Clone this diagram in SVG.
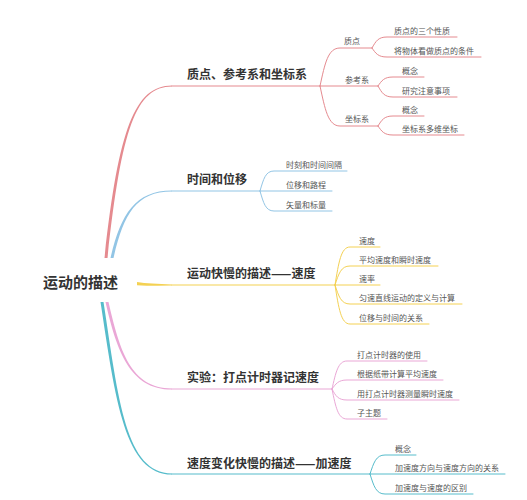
<svg xmlns="http://www.w3.org/2000/svg" width="527" height="500" viewBox="0 0 527 500">
<style>
text{font-family:"Noto Sans CJK SC","Noto Sans",sans-serif}
.root{font-size:15px;font-weight:bold;fill:#333}
.l1{font-size:12px;font-weight:bold;fill:#333}
.l2{font-size:8px;fill:#555}
.ln{fill:none;stroke-width:1.2;stroke-linecap:round}
.sub{fill:none;stroke-width:1;stroke-linecap:round}
.red{stroke:#e58a8f}.blue{stroke:#92c5e5}.yel{stroke:#f4d153}.pink{stroke:#eaa7d6}.teal{stroke:#56bccb}
</style>
<rect width="527" height="500" fill="#fff"/>
<g id="connectors">
<path d="M104.5,258 C118.5,130 134.5,85.4 172,85.4 L172,86.6 C135.5,86.6 121.5,130 107.5,258 Z" fill="#e58a8f"/>
<path class="ln red" d="M172,86 H320"/>
<path class="sub red" d="M320,86 C325,63 328,48 340,48 H372"/>
<path class="sub red" d="M372,48 C375.75,41.4 378,37 387,37 H457"/>
<path class="sub red" d="M372,48 C375.75,53.4 378,57 387,57 H481"/>
<path class="sub red" d="M320,86 H378"/>
<path class="sub red" d="M378,86 C381.75,80.6 384,77 393,77 H424"/>
<path class="sub red" d="M378,86 C381.75,92.6 384,97 393,97 H457"/>
<path class="sub red" d="M320,86 C325,109 328,126 340,126 H378"/>
<path class="sub red" d="M378,126 C381.75,120 384,116 393,116 H424"/>
<path class="sub red" d="M378,126 C381.75,131.4 384,135 393,135 H464"/>

<path d="M110.5,258 C120.5,215 134.5,190.4 172,190.4 L172,191.6 C135.5,191.6 123.5,215 113.5,258 Z" fill="#92c5e5"/>
<path class="ln blue" d="M172,191 H260"/>
<path class="sub blue" d="M260,191 C263.5,179 265.5,171 274,171 H347"/>
<path class="sub blue" d="M260,191 H332"/>
<path class="sub blue" d="M260,191 C263.5,203 265.5,211 274,211 H332"/>

<path d="M137,282 Q150,284 172,284.4 L172,285.6 Q150,286 137,285.2 Z" fill="#f4d153"/>
<path class="ln yel" d="M172,285 H335"/>
<path class="sub yel" d="M335,285 C338.75,262.2 341,247 350,247 H380"/>
<path class="sub yel" d="M335,285 C338.75,273.6 341,266 350,266 H438"/>
<path class="sub yel" d="M335,285 H380"/>
<path class="sub yel" d="M335,285 C338.75,296.4 341,304 350,304 H462"/>
<path class="sub yel" d="M335,285 C338.75,308.4 341,324 350,324 H429"/>

<path d="M105.5,302 C116.5,350 129.5,389.6 172,389.6 L172,388.4 C130.5,388.4 119.5,350 108.5,302 Z" fill="#eaa7d6"/>
<path class="ln pink" d="M172,389 H332"/>
<path class="sub pink" d="M332,389 C335.75,372.6 338,361 347,361 H427"/>
<path class="sub pink" d="M332,389 C335.75,384 338,380 347,380 H443"/>
<path class="sub pink" d="M332,389 C335.75,396 338,400 347,400 H459"/>
<path class="sub pink" d="M332,389 C335.75,407.4 338,419 347,419 H387"/>

<path d="M100.5,302 C115.5,400 124.5,474.6 172,474.6 L172,473.4 C125.5,473.4 118.5,400 103.5,302 Z" fill="#56bccb"/>
<path class="ln teal" d="M172,474 H370"/>
<path class="sub teal" d="M370,474 C373.75,462.6 376,455 385,455 H416"/>
<path class="sub teal" d="M370,474 H505"/>
<path class="sub teal" d="M370,474 C373.75,486 376,494 385,494 H473"/>
</g>
<g id="root"><text class="root" x="43" y="287.5">运动的描述</text></g>
<g id="n1"><text class="l1" x="187" y="79">质点、参考系和坐标系</text></g>
<g id="n1-1"><text class="l2" x="344" y="44">质点</text></g>
<g id="n1-1-1"><text class="l2" x="394" y="34">质点的三个性质</text></g>
<g id="n1-1-2"><text class="l2" x="394" y="53.5">将物体看做质点的条件</text></g>
<g id="n1-2"><text class="l2" x="345" y="82.5">参考系</text></g>
<g id="n1-2-1"><text class="l2" x="402" y="73.5">概念</text></g>
<g id="n1-2-2"><text class="l2" x="402" y="93.5">研究注意事项</text></g>
<g id="n1-3"><text class="l2" x="345" y="122">坐标系</text></g>
<g id="n1-3-1"><text class="l2" x="402" y="112.5">概念</text></g>
<g id="n1-3-2"><text class="l2" x="402" y="131.5">坐标系多维坐标</text></g>
<g id="n2"><text class="l1" x="187" y="183.5">时间和位移</text></g>
<g id="n2-1"><text class="l2" x="286" y="167.5">时刻和时间间隔</text></g>
<g id="n2-2"><text class="l2" x="286" y="187.5">位移和路程</text></g>
<g id="n2-3"><text class="l2" x="286" y="207.5">矢量和标量</text></g>
<g id="n3"><text class="l1" x="187" y="278">运动快慢的描述——速度</text></g>
<g id="n3-1"><text class="l2" x="359" y="243.5">速度</text></g>
<g id="n3-2"><text class="l2" x="359" y="262.5">平均速度和瞬时速度</text></g>
<g id="n3-3"><text class="l2" x="359" y="281.5">速率</text></g>
<g id="n3-4"><text class="l2" x="359" y="300.5">匀速直线运动的定义与计算</text></g>
<g id="n3-5"><text class="l2" x="359" y="320.5">位移与时间的关系</text></g>
<g id="n4"><text class="l1" x="187" y="382">实验：打点计时器记速度</text></g>
<g id="n4-1"><text class="l2" x="357" y="357.5">打点计时器的使用</text></g>
<g id="n4-2"><text class="l2" x="357" y="376.5">根据纸带计算平均速度</text></g>
<g id="n4-3"><text class="l2" x="357" y="396.5">用打点计时器测量瞬时速度</text></g>
<g id="n4-4"><text class="l2" x="357" y="415.5">子主题</text></g>
<g id="n5"><text class="l1" x="187" y="467.5">速度变化快慢的描述——加速度</text></g>
<g id="n5-1"><text class="l2" x="395" y="451.5">概念</text></g>
<g id="n5-2"><text class="l2" x="395" y="470.5">加速度方向与速度方向的关系</text></g>
<g id="n5-3"><text class="l2" x="395" y="490.5">加速度与速度的区别</text></g>
</svg>
